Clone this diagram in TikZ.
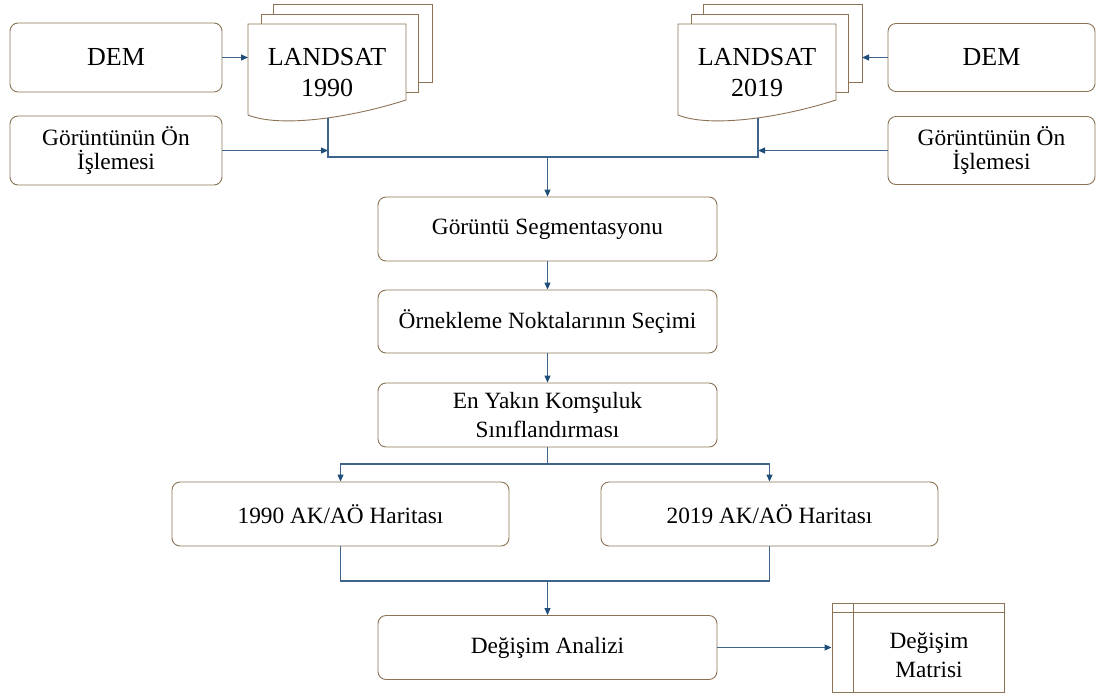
\documentclass[tikz,border=0pt]{standalone}
\usepackage{fontspec}
\setmainfont{Liberation Serif}
\usetikzlibrary{arrows.meta,calc}
\definecolor{bord}{RGB}{140,115,85}
\definecolor{connc}{RGB}{62,100,140}
\definecolor{tipc}{RGB}{31,78,121}
\begin{document}
\begin{tikzpicture}[x=1pt,y=-1pt,
  box/.style={draw=bord, line width=0.9pt, fill=white, rounded corners=8pt, align=center, inner sep=0pt, font=\fontsize{23.3}{28.5}\selectfont},
  conn/.style={draw=connc, line width=1.1pt},
  arr/.style={conn, -{Triangle[length=7pt,width=6pt,color=tipc]}},
  page/.style={draw=bord, line width=0.9pt, fill=white},
  big/.style={align=center, inner sep=0pt, font=\fontsize{26}{31}\selectfont},
  docstack/.pic={
    \draw[page] (25,-20) rectangle (184,58);
    \draw[page] (13,-10) rectangle (170,68);
    \draw[page] (0,0) -- (158,0) -- (158,76) .. controls (102,94) and (32,104) .. (0,91) -- cycle;
  }]
\useasboundingbox (0,0) rectangle (1096,697);
\fill[white] (0,0) rectangle (1096,697);

% document stacks
\pic at (248,24) {docstack};
\pic at (678,24) {docstack};
\node[big] (lsL) at (327,73) {LANDSAT\\1990};
\node[big] (lsR) at (757,73) {LANDSAT\\2019};
\coordinate (docLw) at (248,57.5);
\coordinate (docLs) at (328,118);
\coordinate (docRe) at (862,57.5);
\coordinate (docRs) at (758,118);

% side boxes
\node[box, minimum width=212pt, minimum height=69pt, font=\fontsize{26}{30}\selectfont] (demL) at (116,57.5) {DEM};
\node[box, minimum width=212pt, minimum height=69pt, font=\fontsize{23.4}{24.5}\selectfont] (preL) at (116,150.5) {Görüntünün Ön\\İşlemesi};
\node[box, minimum width=207pt, minimum height=68pt, font=\fontsize{26}{30}\selectfont] (demR) at (991.5,57.5) {DEM};
\node[box, minimum width=207pt, minimum height=68pt, font=\fontsize{23.4}{24.5}\selectfont] (preR) at (991.5,150.5) {Görüntünün Ön\\İşlemesi};

% central boxes
\node[box, minimum width=339pt, minimum height=64pt] (seg) at (547.5,229) {Görüntü Segmentasyonu};
\node[box, minimum width=339pt, minimum height=63pt] (ork) at (547.5,321.5) {Örnekleme Noktalarının Seçimi};
\node[box, minimum width=339pt, minimum height=64pt] (knn) at (547.5,415) {En Yakın Komşuluk\\Sınıflandırması};
\node[box, minimum width=337pt, minimum height=64pt] (map1) at (340.5,514) {1990 AK/AÖ Haritası};
\node[box, minimum width=337pt, minimum height=64pt] (map2) at (769.5,514) {2019 AK/AÖ Haritası};
\node[box, minimum width=339pt, minimum height=64pt] (an) at (547.5,647.5) {Değişim Analizi};

% matrix
\node[draw=bord, line width=0.9pt, fill=white, minimum width=172pt, minimum height=89pt, inner sep=0pt] (mat) at (918,647.5) {};
\draw[bord, line width=0.9pt] ($(mat.north west)+(22,0)$) -- ($(mat.south west)+(22,0)$);
\draw[bord, line width=0.9pt] ($(mat.north west)+(0,10)$) -- ($(mat.north east)+(0,10)$);
\node[align=center, inner sep=0pt, font=\fontsize{23.3}{29}\selectfont] (matT) at (929,655) {Değişim\\Matrisi};

% connectors
\coordinate (jL) at (preL.east -| docLs);
\coordinate (jR) at (preR.west -| docRs);
\coordinate (hub) at (547.5,157);
\coordinate (split) at (547.5,464);
\coordinate (merge) at (547.5,581);

\draw[arr] (demL.east) -- (docLw);
\draw[arr] (demR.west) -- (docRe);
\draw[arr] (preL.east) -- (jL);
\draw[arr] (preR.west) -- (jR);
\draw[conn] (docLs) |- (hub) -| (docRs);
\draw[arr] (hub) -- (seg.north);
\draw[arr] (seg.south) -- (ork.north);
\draw[arr] (ork.south) -- (knn.north);
\draw[conn] (knn.south) -- (split);
\draw[arr] (split) -| (map1.north);
\draw[arr] (split) -| (map2.north);
\draw[conn] (map1.south) |- (merge) -| (map2.south);
\draw[arr] (merge) -- (an.north);
\draw[arr] (an.east) -- (mat.west);
\end{tikzpicture}
\end{document}
